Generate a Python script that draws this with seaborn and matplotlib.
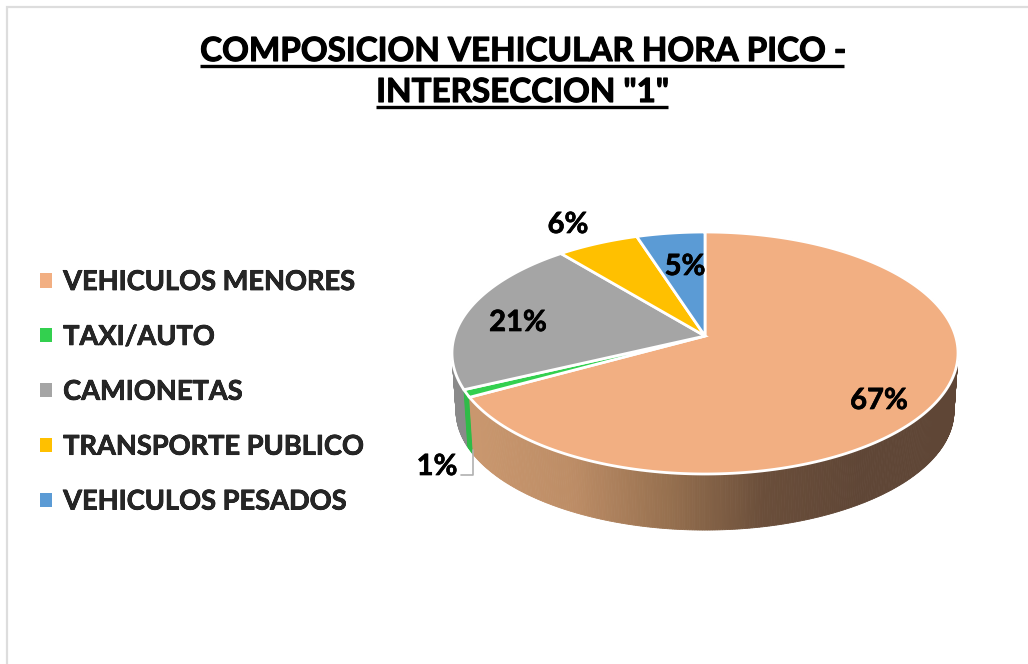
import numpy as np
import seaborn as sns
import matplotlib.pyplot as plt
import matplotlib.patheffects as pe
from matplotlib.patches import Patch

categorias = ["VEHICULOS MENORES", "TAXI/AUTO", "CAMIONETAS", "TRANSPORTE PUBLICO", "VEHICULOS PESADOS"]
porcentajes = [67, 1, 21, 6, 5]
colores = ["#f2af82", "#33d04f", "#a5a5a5", "#ffc000", "#5b9bd5"]
colores_pared = {1: "#2fbb48", 2: "#8a8a8a"}
titulo = ["COMPOSICION VEHICULAR HORA PICO -", 'INTERSECCION "1"']

sns.set_theme(style="white")
plt.rcParams['font.family'] = ['Lato', 'DejaVu Sans']

fig, ax = plt.subplots(figsize=(10.28, 6.64), dpi=100)
ax.set_position([0, 0, 1, 1])

# the pie gives the angles, then they get tilted by hand to look 3D
wedges, _ = ax.pie(porcentajes, startangle=90, counterclock=False)
angulos = [(w.theta1, w.theta2) for w in wedges]
for w in wedges:
    w.remove()

ax.set_aspect('auto')
ax.set_xlim(0, 1028)
ax.set_ylim(664, 0)
ax.axis('off')


def tilt(u, v):
    # circle to ellipse with the far side smaller
    w = 1 + 0.1405 * v
    return 705 + 250.5 * u / w, 353 - (121 * v + 17) / w


def rim(theta):
    t = np.radians(theta)
    return tilt(np.cos(t), np.sin(t))


grueso = [pe.withStroke(linewidth=0.5, foreground="black")]

# side wall
gradiente = sns.blend_palette(["#c9976e", "#bd8d66", "#96704f", "#6a4e3a", "#5f4636", "#5f4636"], 200)
for i in [2, 1, 0]:
    t1, t2 = angulos[i]
    ts = np.linspace(t1, t2, max(int((t2 - t1) * 2), 3))
    xs, ys = rim(ts)
    xb = 705 + 0.984 * (xs - 705)
    yb = 411 + 0.984 * (ys - 353)
    for j in range(len(ts) - 1):
        if i == 0:
            k = int(np.clip((xs[j] - 472) / (958 - 472) * 199, 0, 199))
            c = gradiente[k]
        else:
            c = colores_pared[i]
        ax.fill([xs[j], xs[j + 1], xb[j + 1], xb[j]], [ys[j], ys[j + 1], yb[j + 1], yb[j]],
                color=c, lw=0.6, zorder=2)

# top face
for (t1, t2), c in zip(angulos, colores):
    xs, ys = rim(np.linspace(t1, t2, 200))
    x0, y0 = tilt(0, 0)
    ax.fill(np.r_[x0, xs], np.r_[y0, ys], facecolor=c, edgecolor="white", lw=2, zorder=3)

# data labels
pos_etiquetas = [(879, 401), (437, 467), (518, 323), (568, 225), (685, 267)]
for p, (x, y) in zip(porcentajes, pos_etiquetas):
    ax.text(x, y, f"{p}%", fontsize=21, fontweight='bold', color="black", ha='center', va='center', zorder=5,
            path_effects=grueso)
ax.plot([472.5, 472.5, 461], [450, 475, 475], color="#b0b0b0", lw=1.2, zorder=4)

# legend
handles = [Patch(facecolor=c, edgecolor='none') for c in colores]
ley = ax.legend(handles, categorias, loc='upper left', bbox_to_anchor=(40 / 1028, 1 - 270 / 664), borderaxespad=0,
                borderpad=0, frameon=False, prop={'size': 19.6, 'weight': 'bold'}, handlelength=0.44,
                handleheight=0.44, handletextpad=0.41, labelspacing=1.135)
for t in ley.get_texts():
    t.set_path_effects(grueso)

# title with underline
fig.canvas.draw()
for linea, base in zip(titulo, [61, 102]):
    t = ax.text(522, base, linea, fontsize=23.9, fontweight='bold', color="black", ha='center', va='baseline',
                path_effects=[pe.withStroke(linewidth=0.8, foreground="black")])
    bb = t.get_window_extent()
    ax.plot([bb.x0, bb.x1], [base + 5, base + 5], color="black", lw=2.4, solid_capstyle='butt')

# frame of the picture
ax.plot([7, 7, 1028], [664, 7, 7], color="#dddddd", lw=1.6, solid_joinstyle='miter')

fig.savefig("out.png", dpi=100)
